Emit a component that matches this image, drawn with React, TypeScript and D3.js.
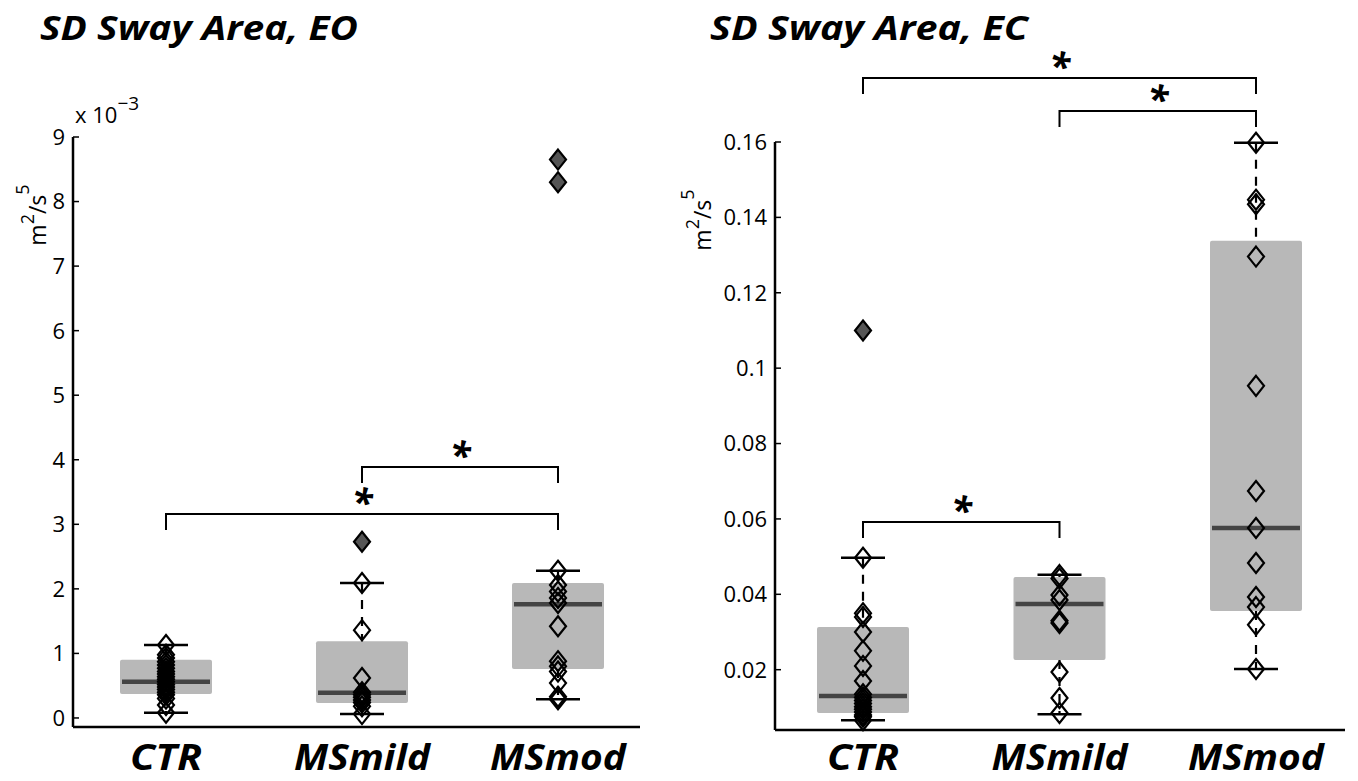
import React from "react";
import * as d3 from "d3";

const categories = ["CTR", "MSmild", "MSmod"];

// Left panel: SD Sway Area, EO (x 10^-3 m^2/s^5)
const eoBoxes = [
  { q1: 0.37, median: 0.56, q3: 0.9, lo: 0.08, hi: 1.13 },
  { q1: 0.23, median: 0.39, q3: 1.19, lo: 0.06, hi: 2.09 },
  { q1: 0.76, median: 1.76, q3: 2.09, lo: 0.29, hi: 2.28 },
];
const eoPoints = [
  [0.08, 0.2, 0.3, 0.36, 0.4, 0.44, 0.48, 0.52, 0.56, 0.6, 0.64, 0.68, 0.72, 0.77, 0.82, 0.87, 0.93, 0.98, 1.13],
  [0.06, 0.18, 0.24, 0.28, 0.32, 0.36, 0.4, 0.62, 1.36, 2.09],
  [0.29, 0.33, 0.54, 0.72, 0.8, 0.88, 1.42, 1.78, 1.86, 1.96, 2.06, 2.28],
];
const eoOutliers = [[], [2.73], [8.3, 8.65]];
const eoTicks = [0, 1, 2, 3, 4, 5, 6, 7, 8, 9];

// Right panel: SD Sway Area, EC (m^2/s^5)
const ecBoxes = [
  { q1: 0.0085, median: 0.013, q3: 0.0313, lo: 0.0066, hi: 0.0497 },
  { q1: 0.0226, median: 0.0374, q3: 0.0446, lo: 0.0082, hi: 0.0452 },
  { q1: 0.0356, median: 0.0576, q3: 0.1338, lo: 0.0202, hi: 0.1598 },
];
const ecPoints = [
  [0.0066, 0.0075, 0.008, 0.0088, 0.0095, 0.0102, 0.011, 0.0118, 0.0126, 0.0135, 0.017, 0.021, 0.025, 0.03, 0.034, 0.035, 0.0497],
  [0.0085, 0.0125, 0.0194, 0.0324, 0.033, 0.0385, 0.0398, 0.0442, 0.0451],
  [0.0202, 0.0319, 0.0366, 0.0393, 0.0483, 0.0576, 0.0674, 0.0953, 0.1296, 0.1435, 0.1447, 0.1598],
];
const ecOutliers = [[0.11], [], []];
const ecTicks = [0.02, 0.04, 0.06, 0.08, 0.1, 0.12, 0.14, 0.16];

const FONT = "'Open Sans', 'Liberation Sans', sans-serif";

function Diamond({ x, y, filled }: { x: number; y: number; filled?: boolean }) {
  const w = 8, h = 10;
  return (
    <path
      d={`M${x},${y - h}L${x + w},${y}L${x},${y + h}L${x - w},${y}Z`}
      fill={filled ? "#555" : "none"}
      stroke="#000"
      strokeWidth={2.2}
    />
  );
}

type Box = { q1: number; median: number; q3: number; lo: number; hi: number };

function Panel(props: {
  boxes: Box[];
  points: number[][];
  outliers: number[][];
  ticks: number[];
  domain: [number, number];
  yRange: [number, number];
  xLeft: number;
  xRight: number;
  centers: number[];
  tickFmt: (v: number) => string;
  title: string;
  titleX: number;
  ylabX: number;
  ylabY: number;
  brackets: { a: number; b: number; y: number }[];
}) {
  const y = d3.scaleLinear().domain(props.domain).range(props.yRange);
  const x = d3.scalePoint<string>().domain(categories).range([props.centers[0], props.centers[2]]);
  const boxW = 92, capW = 44;
  const labW = [72, 136, 136];
  return (
    <g>
      <text
        x={props.titleX}
        y={40}
        fontFamily={FONT}
        fontWeight="bold"
        fontStyle="italic"
        fontSize={34}
        textLength={318}
        lengthAdjust="spacingAndGlyphs"
      >
        {props.title}
      </text>
      {props.boxes.map((b, i) => {
        const cx = x(categories[i])!;
        return (
          <g key={"b" + i}>
            <rect x={cx - boxW / 2} y={y(b.q3)} width={boxW} height={y(b.q1) - y(b.q3)} fill="#b8b8b8" rx={2} />
            <line x1={cx} x2={cx} y1={y(b.hi)} y2={y(b.q3)} stroke="#000" strokeWidth={2.2} strokeDasharray="9,8" />
            <line x1={cx} x2={cx} y1={y(b.q1)} y2={y(b.lo)} stroke="#000" strokeWidth={2.2} strokeDasharray="9,8" />
            <line x1={cx - capW / 2} x2={cx + capW / 2} y1={y(b.hi)} y2={y(b.hi)} stroke="#000" strokeWidth={2.5} />
            <line x1={cx - capW / 2} x2={cx + capW / 2} y1={y(b.lo)} y2={y(b.lo)} stroke="#000" strokeWidth={2.5} />
            <line x1={cx - boxW / 2 + 2} x2={cx + boxW / 2 - 2} y1={y(b.median)} y2={y(b.median)} stroke="#444" strokeWidth={4.5} />
          </g>
        );
      })}
      {props.points.map((arr, i) =>
        arr.map((v, j) => <Diamond key={`p${i}-${j}`} x={x(categories[i])!} y={y(v)} />)
      )}
      {props.outliers.map((arr, i) =>
        arr.map((v, j) => <Diamond key={`o${i}-${j}`} x={x(categories[i])!} y={y(v)} filled />)
      )}
      <line x1={props.xLeft} x2={props.xLeft} y1={props.yRange[1]} y2={props.yRange[0]} stroke="#000" strokeWidth={2.5} />
      <line x1={props.xLeft} x2={props.xRight} y1={props.yRange[0]} y2={props.yRange[0]} stroke="#000" strokeWidth={2.5} />
      {props.ticks.map((t) => (
        <g key={"t" + t}>
          <line x1={props.xLeft} x2={props.xLeft + 6} y1={y(t)} y2={y(t)} stroke="#000" strokeWidth={1.5} />
          <text x={props.xLeft - 8} y={y(t)} dy="0.36em" textAnchor="end" fontFamily={FONT} fontSize={22}>
            {props.tickFmt(t)}
          </text>
        </g>
      ))}
      {categories.map((c, i) => (
        <text
          key={c}
          x={x(c)!}
          y={770}
          textAnchor="middle"
          fontFamily={FONT}
          fontWeight="bold"
          fontStyle="italic"
          fontSize={36}
          textLength={labW[i]}
          lengthAdjust="spacingAndGlyphs"
        >
          {c}
        </text>
      ))}
      <text
        transform={`translate(${props.ylabX},${props.ylabY}) rotate(-90)`}
        textAnchor="middle"
        fontFamily={FONT}
        fontSize={23}
      >
        m<tspan dy={-12} fontSize={18}>2</tspan>
        <tspan dy={12}>/s</tspan>
        <tspan dy={-17} fontSize={18}>5</tspan>
      </text>
      {props.brackets.map((br, k) => {
        const xa = x(categories[br.a])!, xb = x(categories[br.b])!;
        return (
          <g key={"br" + k}>
            <path
              d={`M${xa},${br.y + 16}V${br.y}H${xb}V${br.y + 16}`}
              fill="none"
              stroke="#000"
              strokeWidth={2}
            />
            <text x={(xa + xb) / 2} y={br.y + 2} textAnchor="middle" fontFamily={FONT} fontWeight="bold" fontStyle="italic" fontSize={38}>
              *
            </text>
          </g>
        );
      })}
    </g>
  );
}

export default function App() {
  return (
    <svg width={1358} height={781} style={{ display: "block", position: "absolute", left: 0, top: 0, background: "#fff" }}>
      <Panel
        boxes={eoBoxes}
        points={eoPoints}
        outliers={eoOutliers}
        ticks={eoTicks}
        domain={[-0.14, 9]}
        yRange={[727, 137]}
        xLeft={73}
        xRight={640}
        centers={[166, 363, 558]}
        tickFmt={(v) => String(v)}
        title="SD Sway Area, EO"
        titleX={40}
        ylabX={46}
        ylabY={215}
        brackets={[
          { a: 1, b: 2, y: 467 },
          { a: 0, b: 2, y: 514 },
        ]}
      />
      <text x={75} y={123} fontFamily={FONT} fontSize={22}>
        x 10<tspan dy={-13} fontSize={19}>−3</tspan>
      </text>
      <Panel
        boxes={ecBoxes}
        points={ecPoints}
        outliers={ecOutliers}
        ticks={ecTicks}
        domain={[0.004, 0.16]}
        yRange={[730, 142]}
        xLeft={775}
        xRight={1345}
        centers={[863, 1060, 1256]}
        tickFmt={(v) => String(v)}
        title="SD Sway Area, EC"
        titleX={710}
        ylabX={711}
        ylabY={220}
        brackets={[
          { a: 0, b: 2, y: 78 },
          { a: 1, b: 2, y: 111 },
          { a: 0, b: 1, y: 522 },
        ]}
      />
    </svg>
  );
}
